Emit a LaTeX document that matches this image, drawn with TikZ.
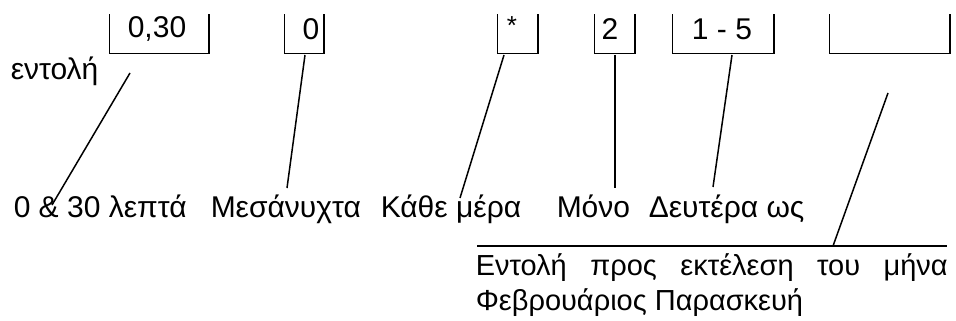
\documentclass[tikz,border=0pt]{standalone}
\usepackage{fontspec}
\setmainfont{Liberation Sans}
\begin{document}
\begin{tikzpicture}[x=1pt,y=-1pt,line width=1.5pt,
  txt/.style={inner sep=0pt,font=\fontsize{30}{35}\selectfont},
  lbl/.style={txt,anchor=base west},
  field/.style={inner sep=0pt,minimum height=38pt}]
\useasboundingbox (0,0) rectangle (956,321);
% the six fields of the line
\node[field,minimum width=98pt] (fmin) at (159,34) {};
\node[field,minimum width=38pt] (fhour) at (304,34) {};
\node[field,minimum width=39pt] (fday) at (517.5,34) {};
\node[field,minimum width=39pt] (fmonth) at (614.5,34) {};
\node[field,minimum width=100pt] (fweek) at (723,34) {};
\node[field,minimum width=119pt] (fcmd) at (889.5,34) {};
\foreach \f in {fmin,fhour,fday,fmonth,fweek,fcmd}
  \draw (\f.north west) |- (\f.south east) -- (\f.north east);
\node[txt] (tmin) at (157,29) {0,30};
\node[txt] (thour) at (311,29) {0};
\node[txt,font=\fontsize{26}{30}\selectfont] (tday) at (512,26) {*};
\node[txt] (tmonth) at (610,29) {2};
\node[txt] (tweek) at (722,29) {1 - 5};
\node[lbl] (entoli) at (10,80) {εντολή};
% labels below
\node[lbl] (lmin) at (13,217) {0 \& 30 λεπτά};
\node[lbl] (lhour) at (210,217) {Μεσάνυχτα};
\node[lbl] (lday) at (380,217) {Κάθε μέρα};
\node[lbl] (lmonth) at (556,217) {Μόνο};
\node[lbl] (lweek) at (648,217) {Δευτέρα ως};
\node[txt,anchor=north west,align=left,font=\fontsize{29}{35}\selectfont] (lcmd) at (475,253)
  {\makebox[472pt][s]{Εντολή προς εκτέλεση του μήνα}\\Φεβρουάριος Παρασκευή};
\coordinate (rule) at (477,246);
\coordinate (ruleend) at (947,246);
\draw (rule) -- (ruleend);
% connectors
\coordinate (s1) at (130,73);  \coordinate (e1) at (52,205);
\coordinate (s2) at (305,55);  \coordinate (e2) at (287,188);
\coordinate (s3) at (504,55);  \coordinate (e3) at (460,198);
\coordinate (s4) at (615,55);  \coordinate (e4) at (615,188);
\coordinate (s5) at (732,55);  \coordinate (e5) at (713,187);
\coordinate (s6) at (888,93);  \coordinate (e6) at (833,246);
\foreach \i in {1,...,6}
  \draw (s\i) -- (e\i);
\end{tikzpicture}
\end{document}
